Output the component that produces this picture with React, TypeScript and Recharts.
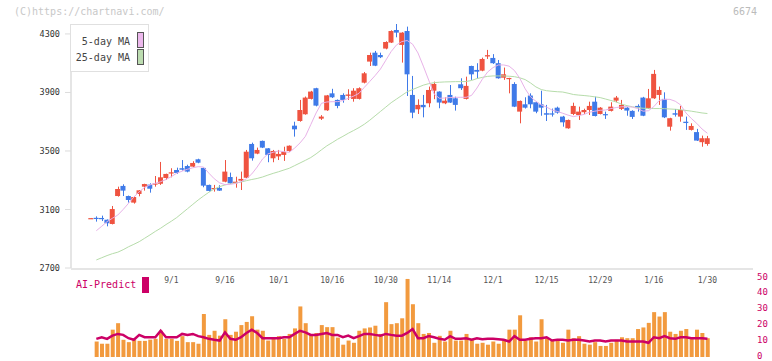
import React from 'react';
import { ComposedChart, Bar, Line, XAxis, YAxis } from 'recharts';

const MONO = "'DejaVu Sans Mono', monospace";
const RED = '#ef5340';
const BLUE = '#3f7ae8';

// candles, one per trading day
const opens = [
  3039, 3043, 3042, 3030, 3001, 3192, 3261, 3192, 3147, 3206,
  3256, 3270, 3272, 3276, 3315, 3350, 3370, 3382, 3397, 3393,
  3443, 3384, 3268, 3243, 3247, 3290, 3322, 3280, 3297, 3317,
  3548, 3482, 3569, 3518, 3450, 3463, 3473, 3500, 3673, 3705,
  3751, 3856, 3929, 3721, 3778, 3894, 3849, 3883, 3877, 3856,
  3856, 3967, 4111, 4172, 4156, 4200, 4241, 4327, 4225, 4320,
  3883, 3785, 3815, 3826, 3912, 3906, 3826, 3883, 3860, 3956,
  3856, 4081, 4054, 4049, 4146, 4136, 4100, 4001, 3995, 3958,
  3769, 3819, 3879, 3833, 3819, 3758, 3757, 3796, 3735, 3655,
  3753, 3746, 3765, 3780, 3837, 3753, 3752, 3774, 3844, 3788,
  3796, 3774, 3808, 3865, 3792, 3860, 3883, 3856, 3666, 3758,
  3735, 3700, 3644, 3629, 3560, 3548,
];
const highs = [
  3042, 3053, 3058, 3032, 3124, 3256, 3272, 3195, 3192, 3233,
  3276, 3279, 3329, 3425, 3345, 3382, 3386, 3438, 3406, 3430,
  3447, 3386, 3270, 3268, 3266, 3438, 3352, 3324, 3359, 3507,
  3557, 3523, 3571, 3520, 3507, 3507, 3529, 3538, 3700, 3849,
  3872, 3911, 3932, 3745, 3883, 3925, 3852, 3894, 3922, 3929,
  3935, 4040, 4172, 4184, 4172, 4250, 4325, 4368, 4312, 4350,
  4013, 3853, 3883, 3940, 3974, 3908, 3867, 3951, 3871, 3997,
  4008, 4083, 4100, 4138, 4191, 4162, 4122, 4070, 4000, 3970,
  3845, 3867, 3894, 3836, 3912, 3815, 3790, 3803, 3740, 3715,
  3830, 3803, 3789, 3837, 3871, 3800, 3769, 3833, 3876, 3849,
  3800, 3778, 3819, 3870, 3924, 4054, 3940, 3901, 3727, 3787,
  3808, 3735, 3689, 3651, 3605, 3603,
];
const lows = [
  3038, 3017, 3021, 2985, 2998, 3188, 3192, 3147, 3140, 3190,
  3229, 3215, 3256, 3268, 3302, 3320, 3343, 3366, 3354, 3390,
  3416, 3252, 3222, 3222, 3227, 3286, 3274, 3249, 3233, 3315,
  3434, 3478, 3520, 3423, 3423, 3438, 3432, 3495, 3598, 3700,
  3748, 3852, 3805, 3712, 3774, 3862, 3792, 3830, 3849, 3837,
  3852, 3962, 4081, 4080, 4135, 4195, 4238, 4277, 4104, 3876,
  3724, 3753, 3730, 3799, 3854, 3792, 3820, 3828, 3776, 3917,
  3852, 3986, 3997, 4045, 4129, 4095, 3994, 3986, 3894, 3800,
  3689, 3790, 3792, 3758, 3741, 3705, 3735, 3755, 3666, 3652,
  3745, 3712, 3753, 3746, 3736, 3750, 3719, 3770, 3833, 3780,
  3741, 3719, 3769, 3738, 3788, 3856, 3815, 3725, 3639, 3735,
  3700, 3644, 3640, 3568, 3529, 3536,
];
const closes = [
  3041, 3035, 3038, 3006, 3103, 3240, 3229, 3165, 3185, 3231,
  3274, 3242, 3278, 3320, 3343, 3354, 3350, 3372, 3359, 3418,
  3420, 3263, 3227, 3247, 3229, 3359, 3279, 3290, 3309, 3495,
  3450, 3507, 3523, 3473, 3500, 3480, 3493, 3536, 3648, 3780,
  3865, 3906, 3810, 3735, 3880, 3867, 3808, 3849, 3886, 3912,
  3929, 4031, 4156, 4083, 4141, 4245, 4320, 4309, 4309, 4024,
  3762, 3815, 3799, 3917, 3958, 3831, 3844, 3831, 3815, 3929,
  3945, 4024, 4042, 4129, 4155, 4100, 3997, 4024, 3999, 3803,
  3842, 3796, 3819, 3769, 3796, 3748, 3750, 3762, 3696, 3712,
  3808, 3769, 3780, 3808, 3739, 3796, 3746, 3803, 3865, 3815,
  3776, 3733, 3796, 3741, 3860, 4027, 3917, 3730, 3724, 3748,
  3780, 3691, 3671, 3571, 3587, 3587,
];

const ma5 = [
  null, 2955, 2985, 3017, 3040, 3062, 3100, 3142, 3185, 3222,
  3250, 3268, 3279, 3290, 3305, 3325, 3348, 3362, 3375, 3385,
  3393, 3390, 3348, 3310, 3282, 3270, 3272, 3278, 3290, 3310,
  3343, 3390, 3445, 3480, 3491, 3500, 3495, 3491, 3520, 3555,
  3600, 3680, 3760, 3826, 3835, 3837, 3837, 3845, 3860, 3875,
  3894, 3935, 3975, 4015, 4060, 4120, 4180, 4225, 4248, 4255,
  4230, 4170, 4080, 3985, 3890, 3860, 3862, 3865, 3867, 3867,
  3867, 3880, 3930, 3990, 4040, 4070, 4088, 4088, 4080, 4050,
  3997, 3925, 3870, 3840, 3815, 3800, 3780, 3770, 3758, 3745,
  3735, 3742, 3750, 3765, 3772, 3778, 3780, 3790, 3797, 3802,
  3803, 3800, 3790, 3772, 3775, 3803, 3845, 3853, 3853, 3840,
  3815, 3760, 3722, 3689, 3650, 3621,
];
const ma25 = [
  null, 2755, 2770, 2785, 2798, 2808, 2825, 2845, 2862, 2880,
  2903, 2926, 2950, 2972, 2997, 3020, 3045, 3075, 3105, 3135,
  3165, 3192, 3218, 3240, 3256, 3268, 3276, 3281, 3288, 3297,
  3305, 3312, 3322, 3335, 3347, 3358, 3370, 3382, 3400, 3418,
  3436, 3455, 3480, 3508, 3535, 3557, 3580, 3600, 3621, 3640,
  3660, 3683, 3710, 3740, 3770, 3800, 3830, 3855, 3880, 3905,
  3920, 3935, 3950, 3960, 3967, 3970, 3972, 3973, 3974, 3974,
  3975, 3982, 3995, 4003, 4010, 4013, 4013, 4013, 4011, 4008,
  4000, 3988, 3965, 3938, 3920, 3912, 3908, 3905, 3903, 3895,
  3886, 3882, 3879, 3875, 3870, 3865, 3855, 3845, 3835, 3820,
  3810, 3802, 3796, 3792, 3791, 3790, 3790, 3789, 3787, 3785,
  3782, 3777, 3772, 3766, 3760, 3756,
];

const volume = [
  null, 9.8, 8.4, 8.4, 17.3, 21.4, 10.9, 9.4, 10.9, 10.2,
  10.2, 11, 11.5, 16.6, 11.5, 11.5, 10.2, 13.2, 9.4, 9.4,
  8.4, 27.2, 14, 16.6, 13.5, 23.9, 14, 16, 20.2, 22.2,
  25.8, 17.3, 16.6, 10.4, 11.5, 13.2, 11.5, 14.6, 18.1, 32,
  21.4, 14, 15.2, 20.2, 18.9, 18.9, 12.3, 7.8, 10.4, 9,
  16.6, 18.1, 18.7, 19.8, 14.6, 34.7, 20.8, 21.4, 24.5, 49.4,
  33.4, 21.4, 14.6, 15.2, 9, 13.4, 9.8, 16.6, 10.4, 10.4,
  14.6, 11.5, 8.4, 9, 7.8, 9.8, 8.4, 10.4, 17.3, 17.3,
  26.4, 10.4, 12.5, 9.8, 23.9, 11.9, 10.4, 10.4, 9, 17.3,
  11.9, 13.2, 8.4, 7.8, 9.4, 7, 7, 9, 10.9, 12.5,
  11.9, 11.9, 17.7, 18.7, 21.6, 28.4, 25.6, 28.4, 16, 14.6,
  16.6, 17.7, 11.9, 17.3, 15.2, 11.9,
];
const aiPredict = [
  null, 11.5, 12.5, 11.5, 13.5, 14.6, 14, 11.9, 10.9, 14,
  12.5, 12.5, 12.5, 16.6, 12.5, 12.5, 12.5, 14.6, 14, 14.6,
  13.2, 12.5, 11.5, 10.9, 10.4, 15.6, 11.5, 10.9, 12.5, 15.2,
  17.3, 15.2, 11.9, 11.9, 11.9, 11.9, 12.5, 12.5, 14.6, 16.6,
  15.6, 14, 14, 14.6, 15.2, 14, 14, 12.5, 13.5, 11.9,
  13.2, 14.6, 14.6, 14, 13.5, 14.6, 14, 13.5, 13.5, 15.2,
  17.7, 11.9, 11.9, 13.2, 12.5, 11.5, 10.9, 13.2, 11.5, 11.5,
  11.9, 10.9, 11.9, 11.2, 11.5, 11.5, 11.2, 10.9, 9.8, 13.2,
  10.9, 10.9, 11.5, 11.9, 11.9, 12.5, 10.4, 10.9, 10.9, 10.4,
  10.9, 10.9, 10.4, 9.8, 10.4, 10.4, 9.8, 10.4, 10.4, 10.4,
  9.8, 9.8, 9.8, 9.8, 9, 12.5, 11.9, 13.2, 11.9, 11.5,
  12.5, 12.5, 11.9, 11.9, 11.9, 11.5,
];

const tickLabels = ['9/1', '9/16', '10/1', '10/16', '10/30', '11/14', '12/1', '12/15', '12/29', '1/16', '1/30'];
const tickIdx = [15, 25, 35, 45, 55, 65, 75, 85, 95, 105, 115];
const priceTicks = [2700, 3100, 3500, 3900, 4300];
const volTicks = [0, 10, 20, 30, 40, 50];
const frameTicks = [0, 1, 2, 3, 4, 5, 6, 7, 8, 9, 10, 11];

const rows = opens.map((o, i) => ({
  i, o, h: highs[i], l: lows[i], c: closes[i], m5: ma5[i], m25: ma25[i],
}));
const volRows = volume.map((v, i) => ({ i, v, ai: aiPredict[i] }));

const PAD = { left: 17.3, right: 42.9 };

const Candle = (props: any) => {
  const { x, y, width, height, payload } = props;
  if (x == null || payload == null) return null;
  const top = Math.min(y, y + height);
  const h = Math.abs(height);
  const span = payload.h - payload.l || 1;
  const py = (v: number) => top + ((payload.h - v) / span) * h;
  const color = payload.c >= payload.o ? RED : BLUE;
  const cx = Math.round(x + width / 2) + 0.5;
  const bTop = py(Math.max(payload.o, payload.c));
  const bBot = py(Math.min(payload.o, payload.c));
  return (
    <g>
      <line x1={cx} x2={cx} y1={top} y2={top + h} stroke={color} strokeWidth={1} />
      <rect x={x} y={bTop} width={width} height={Math.max(1.2, bBot - bTop)} fill={color} />
    </g>
  );
};

// right-hand volume tick, baseline nudged up so the bottom "0" stays inside the frame
const VolTick = (props: any) => {
  const { x, y, payload } = props;
  return (
    <text x={x} y={y + 1.5} fill="#cc0066" fontSize={9} fontFamily={MONO} textAnchor="start">
      {payload.value}
    </text>
  );
};

export default function App() {
  return (
    <div style={{ position: 'absolute', left: 0, top: 0, width: 772, height: 361, overflow: 'hidden', background: '#fff', fontFamily: MONO }}>
      <div style={{ position: 'absolute', left: 0, top: 0 }}>
        <ComposedChart width={772} height={290} data={rows} margin={{ top: 24, right: 19, bottom: 20, left: 11 }}>
          <XAxis
            xAxisId="f"
            type="number"
            domain={[0, 11]}
            ticks={frameTicks}
            allowDataOverflow
            tick={false}
            tickLine={{ stroke: '#dcdcdc' }}
            axisLine={{ stroke: '#dcdcdc', strokeWidth: 1.5 }}
            tickSize={5}
            height={1}
          />
          <XAxis
            xAxisId="c"
            dataKey="i"
            type="category"
            padding={PAD}
            ticks={tickIdx}
            interval={0}
            tickFormatter={(v) => tickLabels[tickIdx.indexOf(v)] ?? ''}
            axisLine={false}
            tickLine={false}
            tickSize={0}
            tickMargin={9}
            height={1}
            tick={{ fill: '#555', fontSize: 8, fontFamily: MONO }}
          />
          <YAxis
            domain={[2700, 4368]}
            ticks={priceTicks}
            allowDataOverflow
            width={60}
            axisLine={{ stroke: '#dcdcdc', strokeWidth: 1.5 }}
            tickLine={{ stroke: '#dcdcdc' }}
            tickSize={6}
            tickMargin={5}
            tick={{ fill: '#333', fontSize: 8.5, fontFamily: MONO }}
          />
          <Line xAxisId="c" dataKey="m25" stroke="#b6dcaa" strokeWidth={1} dot={false} isAnimationActive={false} />
          <Line xAxisId="c" dataKey="m5" stroke="#e8b2e8" strokeWidth={1} dot={false} isAnimationActive={false} />
          <Bar xAxisId="c" dataKey={(d: any) => [d.l, d.h]} barSize={5} shape={Candle} isAnimationActive={false} />
        </ComposedChart>
      </div>

      <div style={{ position: 'absolute', left: 0, top: 270 }}>
        <ComposedChart width={772} height={91} data={volRows} margin={{ top: 8, right: 0, bottom: 4, left: 71 }}>
          <XAxis xAxisId="c" dataKey="i" type="category" padding={PAD} hide />
          <YAxis
            orientation="right"
            domain={[0, 50]}
            ticks={volTicks}
            interval={0}
            width={19}
            axisLine={false}
            tickLine={false}
            tickSize={0}
            tickMargin={4}
            tick={VolTick}
          />
          <Bar xAxisId="c" dataKey="v" fill="#f29a3e" barSize={4} isAnimationActive={false} />
          <Line xAxisId="c" dataKey="ai" stroke="#cc0066" strokeWidth={2.5} dot={false} isAnimationActive={false} />
        </ComposedChart>
      </div>

      <div style={{ position: 'absolute', left: 14, top: 6, fontSize: 10, lineHeight: '12px', color: '#c8c8c8' }}>(C)https://chartnavi.com/</div>
      <div style={{ position: 'absolute', left: 733, top: 6, fontSize: 10, lineHeight: '12px', color: '#bbb' }}>6674</div>

      <div style={{ position: 'absolute', left: 70, top: 24, width: 77, height: 46, border: '1px solid #e0e0e0', background: '#fff', fontSize: 10, color: '#444' }}>
        <div style={{ position: 'absolute', right: 18, top: 11, lineHeight: '12px' }}>5-day MA</div>
        <div style={{ position: 'absolute', left: 66, top: 7, width: 5, height: 14, border: '1px solid #555', background: '#ecb8ec' }} />
        <div style={{ position: 'absolute', right: 18, top: 27, lineHeight: '12px' }}>25-day MA</div>
        <div style={{ position: 'absolute', left: 66, top: 24, width: 5, height: 14, border: '1px solid #555', background: '#bcdcb0' }} />
      </div>

      <div style={{ position: 'absolute', left: 76, top: 279, fontSize: 10, lineHeight: '12px', color: '#cc0066' }}>AI-Predict</div>
      <div style={{ position: 'absolute', left: 142, top: 277, width: 6.5, height: 16, background: '#cc0066' }} />
    </div>
  );
}
